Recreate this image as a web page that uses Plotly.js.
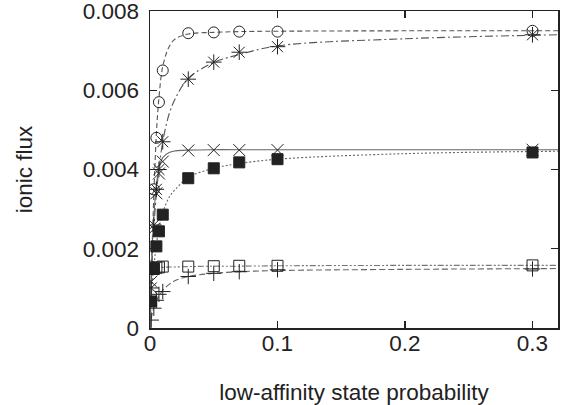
<!DOCTYPE html>
<html>
<head>
<meta charset="utf-8">
<script src="https://cdn.plot.ly/plotly-3.0.1.min.js"></script>
<style>body{margin:0;background:#fff}#chart{width:570px;height:405px}</style>
</head>
<body>
<div id="chart"></div>
<script>
// measured points (low-affinity state probability)
const xData = [0.001, 0.003, 0.005, 0.007, 0.01, 0.03, 0.05, 0.07, 0.1, 0.3];
const circles   = [0.00155, 0.0035, 0.0048, 0.0057, 0.0065, 0.00744, 0.00746, 0.00748, 0.00748, 0.0075];
const asterisks = [0.00101, 0.0026, 0.0035, 0.0040, 0.0047, 0.00628, 0.00671, 0.00696, 0.0071, 0.0074];
const crosses   = [0.00117, 0.0025, 0.0034, 0.0039, 0.0042, 0.00448, 0.00449, 0.00449, 0.00449, 0.0045];
const filledSq  = [0.00067, 0.00149, 0.00206, 0.00244, 0.00286, 0.00378, 0.00403, 0.00418, 0.00426, 0.00443];
const openSq    = [0.0015, 0.0015, 0.00152, 0.00153, 0.00155, 0.00155, 0.00156, 0.00157, 0.00157, 0.00158];
const pluses    = [0.0002, 0.0005, 0.0007, 0.00085, 0.00092, 0.0013, 0.00138, 0.00142, 0.00147, 0.00149];

// fitted curves
const xFit = [0, 0.002, 0.005, 0.007, 0.01, 0.015, 0.02, 0.03, 0.05, 0.07, 0.1, 0.2, 0.32];
const fitCircles   = [0, 0.0024, 0.0049, 0.0058, 0.0066, 0.0071, 0.0073, 0.00742, 0.00746, 0.00748, 0.00749, 0.0075, 0.0075];
const fitAsterisks = [0, 0.0019, 0.0034, 0.0040, 0.0047, 0.0054, 0.0058, 0.0063, 0.0067, 0.0069, 0.00712, 0.0073, 0.0074];
const fitCrosses   = [0, 0.0022, 0.0036, 0.0040, 0.0043, 0.00443, 0.00447, 0.00449, 0.0045, 0.0045, 0.0045, 0.0045, 0.0045];
const fitFilledSq  = [0, 0.0012, 0.0021, 0.0025, 0.0029, 0.0033, 0.0035, 0.0038, 0.00403, 0.00415, 0.00426, 0.0044, 0.00446];
const fitOpenSq    = [0.0015, 0.0015, 0.00151, 0.00152, 0.00153, 0.00154, 0.00154, 0.00155, 0.00156, 0.00156, 0.00157, 0.00158, 0.00158];
const fitPluses    = [0, 0.0004, 0.0007, 0.0008, 0.00095, 0.0011, 0.0012, 0.0013, 0.00138, 0.00142, 0.00145, 0.00148, 0.0015];

const xTicks = [0, 0.1, 0.2, 0.3];
const xTickText = ['0', '0.1', '0.2', '0.3'];
const yTicks = [0, 0.002, 0.004, 0.006, 0.008];
const yTickText = ['0', '0.002', '0.004', '0.006', '0.008'];

const lineCol = '#555';
function fit(y, dash, color) {
  return {x: xFit, y: y, mode: 'lines', line: {color: color || lineCol, width: 1.1, dash: dash, shape: 'spline'}, hoverinfo: 'skip'};
}
function pts(y, symbol, size, color) {
  return {x: xData, y: y, mode: 'markers', marker: {symbol: symbol, size: size, color: color || '#222', line: {color: '#222', width: 1}}};
}

const traces = [
  fit(fitCircles, '5px,3px'),
  fit(fitAsterisks, '8px,3px,2px,3px'),
  fit(fitCrosses, 'solid', '#666'),
  fit(fitFilledSq, '2px,2px', '#666'),
  fit(fitOpenSq, '6px,2px,2px,2px,2px,2px', '#777'),
  fit(fitPluses, '6px,3px', '#666'),
  pts(circles, 'circle-open', 11),
  pts(asterisks, 'asterisk-open', 13),
  pts(crosses, 'x-thin-open', 12),
  pts(filledSq, 'square', 11, '#222'),
  pts(openSq, 'square-open', 11),
  pts(pluses, 'cross-thin-open', 11)
];

const font = {family: 'Liberation Sans, Arial, sans-serif', size: 22.5, color: '#222'};
const layout = {
  width: 570, height: 405,
  margin: {l: 150, r: 12, t: 11, b: 77},
  showlegend: false,
  paper_bgcolor: '#fff', plot_bgcolor: '#fff',
  font: font,
  xaxis: {
    range: [0, 0.32], tickvals: xTicks, ticktext: xTickText,
    ticks: 'inside', ticklen: 7, tickwidth: 1.3, tickcolor: '#222',
    showline: true, linecolor: '#222', linewidth: 1.5, mirror: 'ticks',
    showgrid: false, zeroline: false, tickfont: font, ticklabelstandoff: -6,
    title: {text: 'low-affinity state probability', font: font, standoff: 30}
  },
  yaxis: {
    range: [0, 0.00800001], tickvals: yTicks, ticktext: yTickText,
    ticks: 'inside', ticklen: 7, tickwidth: 1.3, tickcolor: '#222',
    showline: true, linecolor: '#222', linewidth: 1.5, mirror: 'ticks',
    showgrid: false, zeroline: false, tickfont: font, ticklabelstandoff: 5,
    ticklabeloverflow: 'allow',
    title: {text: 'ionic flux', font: font, standoff: 44}
  }
};
Plotly.newPlot('chart', traces, layout, {staticPlot: true, displayModeBar: false});
</script>
</body>
</html>
